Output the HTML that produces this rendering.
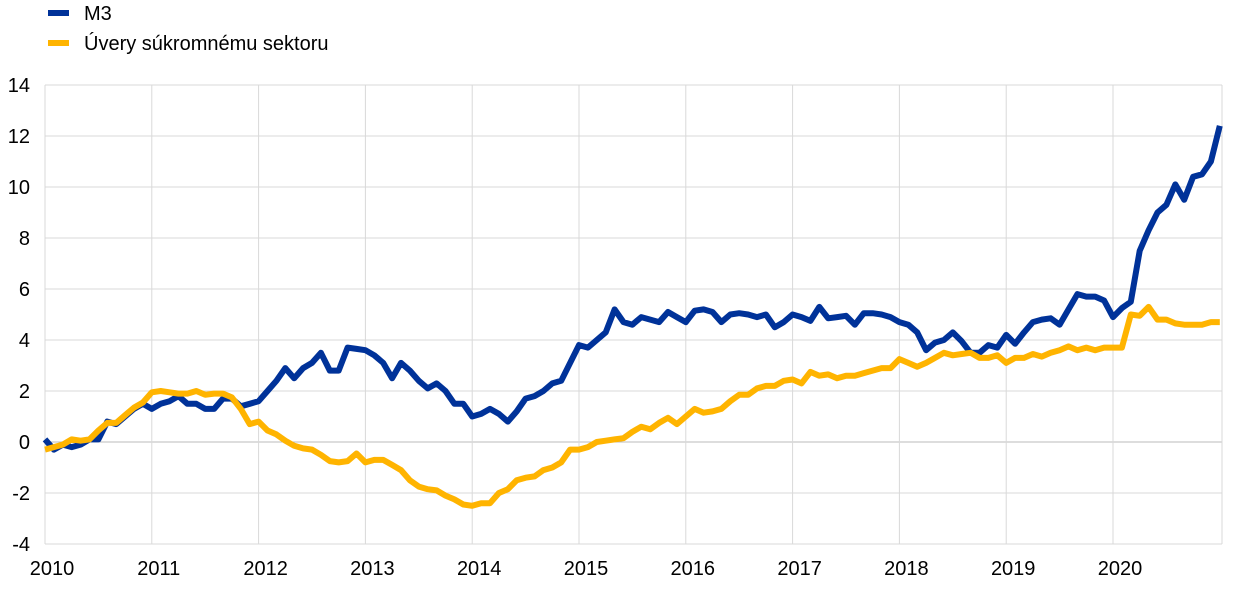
<!DOCTYPE html>
<html><head><meta charset="utf-8"><style>
body{margin:0;background:#fff;font-family:"Liberation Sans",sans-serif;}
svg{display:block}
</style></head><body>
<svg id="c" width="1240" height="589" xmlns="http://www.w3.org/2000/svg" font-family="Liberation Sans, sans-serif" font-size="20" fill="#000"></svg>
<script>
const m3=[0.1,-0.3,-0.1,-0.2,-0.1,0.1,0.1,0.8,0.7,1.0,1.3,1.5,
1.3,1.5,1.6,1.8,1.5,1.5,1.3,1.3,1.7,1.7,1.4,1.5,
1.6,2.0,2.4,2.9,2.5,2.9,3.1,3.5,2.8,2.8,3.7,3.65,
3.6,3.4,3.1,2.5,3.1,2.8,2.4,2.1,2.3,2.0,1.5,1.5,
1.0,1.1,1.3,1.1,0.8,1.2,1.7,1.8,2.0,2.3,2.4,3.1,
3.8,3.7,4.0,4.3,5.2,4.7,4.6,4.9,4.8,4.7,5.1,4.9,
4.7,5.15,5.2,5.1,4.7,5.0,5.05,5.0,4.9,5.0,4.5,4.7,
5.0,4.9,4.75,5.3,4.85,4.9,4.95,4.6,5.05,5.05,5.0,4.9,
4.7,4.6,4.3,3.6,3.9,4.0,4.3,3.95,3.5,3.5,3.8,3.7,
4.2,3.85,4.3,4.7,4.8,4.85,4.6,5.2,5.8,5.7,5.7,5.55,
4.9,5.25,5.5,7.5,8.3,9.0,9.3,10.1,9.5,10.4,10.5,11.0,12.4];
const ln=[-0.3,-0.2,-0.1,0.1,0.05,0.1,0.45,0.75,0.75,1.05,1.35,1.55,
1.95,2.0,1.95,1.9,1.9,2.0,1.85,1.9,1.9,1.75,1.3,0.7,
0.8,0.45,0.3,0.05,-0.15,-0.25,-0.3,-0.5,-0.75,-0.8,-0.75,-0.45,
-0.8,-0.7,-0.7,-0.9,-1.1,-1.5,-1.75,-1.85,-1.9,-2.1,-2.25,-2.45,
-2.5,-2.4,-2.4,-2.0,-1.85,-1.5,-1.4,-1.35,-1.1,-1.0,-0.8,-0.3,
-0.3,-0.2,0.0,0.05,0.1,0.15,0.4,0.6,0.5,0.75,0.95,0.7,
1.0,1.3,1.15,1.2,1.3,1.6,1.85,1.85,2.1,2.2,2.2,2.4,
2.45,2.3,2.75,2.6,2.65,2.5,2.6,2.6,2.7,2.8,2.9,2.9,
3.25,3.1,2.95,3.1,3.3,3.5,3.4,3.45,3.5,3.3,3.3,3.4,
3.1,3.3,3.3,3.45,3.35,3.5,3.6,3.75,3.6,3.7,3.6,3.7,
3.7,3.7,5.0,4.95,5.3,4.8,4.8,4.65,4.6,4.6,4.6,4.7,4.7];
const X0=45,DX=106.8/12,Y0=442,SY=51/2;
const px=i=>X0+i*DX, py=v=>Y0-v*SY;
let s='';
for(let k=-4;k<=14;k+=2){const y=py(k);
 s+=`<line x1="45" x2="1222" y1="${y}" y2="${y}" stroke="${k==0?'#bbb':'#d9d9d9'}" stroke-width="1"/>`;
 s+=`<text x="30" y="${y+7}" text-anchor="end">${k}</text>`;}
for(let j=0;j<=11;j++){const x=X0+j*106.8;
 if(j<11) s+=`<line x1="${x}" x2="${x}" y1="${py(14)}" y2="${py(-4)}" stroke="#d9d9d9"/>`;
 if(j<11) s+=`<text x="${x+7}" y="575" text-anchor="middle">${2010+j}</text>`;}
s+=`<line x1="1222" x2="1222" y1="${py(14)}" y2="${py(-4)}" stroke="#d9d9d9"/>`;
const pl=(d,c)=>`<polyline fill="none" stroke="${c}" stroke-width="6" stroke-linejoin="round" points="${d.map((v,i)=>px(i).toFixed(1)+','+py(v).toFixed(1)).join(' ')}"/>`;
s+=pl(m3,'#003299')+pl(ln,'#ffb400');
s+=`<rect x="48" y="10" width="21" height="6" fill="#003299"/><text x="84" y="20">M3</text>`;
s+=`<rect x="48" y="40" width="21" height="6" fill="#ffb400"/><text x="84" y="50">Úvery súkromnému sektoru</text>`;
document.getElementById('c').innerHTML=s;
</script>
</body></html>
